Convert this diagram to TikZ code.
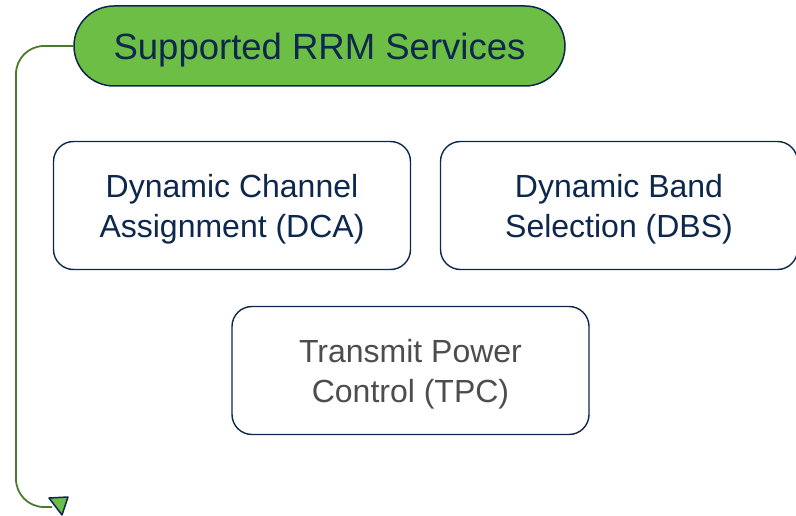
\documentclass[tikz,border=0pt]{standalone}
\usepackage{fontspec}
\setmainfont{Liberation Sans}
\usetikzlibrary{calc}
\definecolor{navy}{HTML}{0D274D}
\definecolor{pillgreen}{HTML}{6CBE45}
\definecolor{linegreen}{HTML}{4B7A2C}
\definecolor{graytext}{HTML}{4D4D4D}
\newcommand{\lowtext}[1]{\raisebox{-4pt}[\height][\depth]{\begin{tabular}{@{}c@{}}#1\end{tabular}}}
\tikzset{
  pill/.style={draw=navy, line width=1.5pt, fill=pillgreen, rounded corners=40pt,
    minimum width=491pt, minimum height=80pt, text=navy, font=\fontsize{36.5}{40}\selectfont, inner sep=0pt},
  svcbox/.style={draw=navy, line width=1.4pt, fill=white, rounded corners=20pt,
    minimum width=357pt, minimum height=128pt, text=navy,
    font=\fontsize{32}{40}\selectfont, inner sep=0pt},
  conn/.style={draw=linegreen, line width=1.8pt, rounded corners=28pt},
}
\begin{document}
\begin{tikzpicture}[x=1pt,y=-1pt]
\useasboundingbox (0,0) rectangle (796,516);
\node[pill] (pill) at (319.5,46) {\raisebox{-4pt}[\height][\depth]{Supported RRM Services}};
\node[svcbox] (dca) at (232,205.5) {\lowtext{Dynamic Channel\\Assignment (DCA)}};
\node[svcbox] (dbs) at (619,205.5) {\lowtext{Dynamic Band\\Selection (DBS)}};
\node[svcbox, text=graytext] (tpc) at (410.5,370.5) {\lowtext{Transmit Power\\Control (TPC)}};
\coordinate (tip) at (52,507);
\draw[conn] (pill.west) -| (16,507) -- (tip);
\draw[navy, fill=pillgreen, line width=1.5pt, line join=round]
  ($(tip)+(-3,-9)$) -- ($(tip)+(16,-10)$) -- ($(tip)+(10,8)$) -- cycle;
\end{tikzpicture}
\end{document}
